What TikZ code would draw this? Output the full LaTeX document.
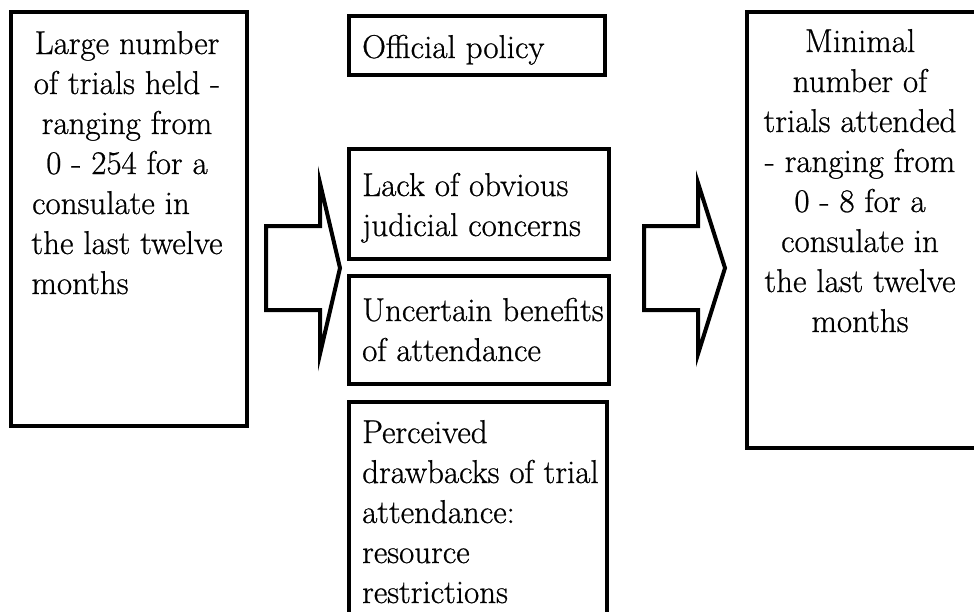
\documentclass[tikz,border=0pt]{standalone}
\usepackage{fontspec}
\setmainfont{Latin Modern Roman}[FakeBold=0.7]
\begin{document}
\begin{tikzpicture}[x=1pt,y=-1pt,
  box/.style={draw, line width=4pt, rectangle, inner sep=0pt},
  txt/.style={inner sep=0pt, font=\fontsize{33}{40}\selectfont},
  blockarrow/.style={draw, line width=4pt, line join=miter}]
\useasboundingbox (0,0) rectangle (974,611);
\clip (0,0) rectangle (974,611);
% boxes
\node[box, minimum width=236pt, minimum height=414pt] (left) at (129,219) {};
\node[box, minimum width=236pt, minimum height=436pt] (right) at (865,230) {};
\node[box, minimum width=256pt, minimum height=59pt] (official) at (477,45.5) {};
\node[box, minimum width=260pt, minimum height=110pt] (lack) at (479,204) {};
\node[box, minimum width=260pt, minimum height=108pt] (uncertain) at (479,330) {};
\node[box, minimum width=258pt, minimum height=240pt] (perceived) at (478,522) {};
% left text
\foreach \t [count=\i] in {Large number, of trials held -, ranging from, 0 - 254 for a, consulate in\phantom{ab}, the last twelve}
  \node[txt, anchor=base] (L\i) at (127,54+40*\i-40) {\t};
\node[txt, anchor=base west] (L7) at (L6.base west) [yshift=-40pt] {months};
% right text
\foreach \t [count=\i] in {Minimal, number of, trials attended, - ranging from, 0 - 8 for a, consulate in, the last twelve, months}
  \node[txt, anchor=base] (R\i) at (860,52+40*\i-40) {\t};
% middle texts
\node[txt, anchor=base west] (o1) at (362,58) {Official policy};
\node[txt, anchor=base west] (k1) at (362,196) {Lack of obvious};
\node[txt, anchor=base west] (k2) at (362,236) {judicial concerns};
\node[txt, anchor=base west] (u1) at (362,321) {Uncertain benefits};
\node[txt, anchor=base west] (u2) at (362,361) {of attendance};
\foreach \t [count=\i] in {Perceived, drawbacks of trial, attendance:, resource, restrictions}
  \node[txt, anchor=base west] (p\i) at (362,443+40*\i-40) {\t};
% block arrows
\draw[blockarrow] (266,226) -- (320,226) -- (320,183) -- (340,268) -- (320,354) -- (320,310) -- (266,310) -- cycle;
\draw[blockarrow] (644,226) -- (698,226) -- (698,183) -- (725,268) -- (698,354) -- (698,310) -- (644,310) -- cycle;
\end{tikzpicture}
\end{document}
